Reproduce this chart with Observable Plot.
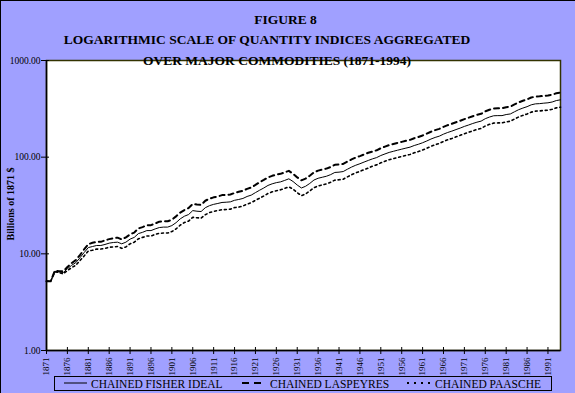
<!DOCTYPE html>
<html><head><meta charset="utf-8">
<script src="https://cdn.jsdelivr.net/npm/d3@7"></script>
<script src="https://cdn.jsdelivr.net/npm/@observablehq/plot@0.6"></script>
<style>
html,body{margin:0;padding:0;}
body{width:575px;height:393px;overflow:hidden;background:#a0a0ff;}
#wrap{position:relative;width:575px;height:393px;background:#a0a0ff;font-family:"Liberation Serif","Times New Roman",serif;color:#000;overflow:hidden;}
#wrap svg{position:absolute;left:0;top:0;overflow:visible;}
.t{position:absolute;white-space:nowrap;font-weight:bold;font-size:13.5px;line-height:13.5px;transform:translateX(-50%);z-index:5;}
#ylab{position:absolute;left:10.5px;top:204px;white-space:nowrap;font-weight:bold;font-size:10px;line-height:10px;transform:translate(-50%,-50%) rotate(-90deg);}
#bl{position:absolute;left:0;top:0;width:1px;height:393px;background:#000;z-index:9;}
#bt{position:absolute;left:0;top:0;width:575px;height:1px;background:#000;z-index:9;}
#legend{position:absolute;left:54px;top:376px;z-index:6;}
</style>
</head><body>
<div id="wrap">
  <div id="chart"></div>
  <div class="t" style="left:285.5px;top:13px;">FIGURE 8</div>
  <div class="t" style="left:267px;top:33px;">LOGARITHMIC SCALE OF QUANTITY INDICES AGGREGATED</div>
  <div class="t" style="left:277px;top:54px;">OVER MAJOR COMMODITIES (1871-1994)</div>
  <div id="ylab">Billions of 1871 $</div>
  <div id="legend"></div>
  <div id="bl"></div><div id="bt"></div>
</div>
<script>
const years = d3.range(1871, 1995);

const fisher = [
5.2,5.2,6.6,6.5,6.4,7.0,7.6,8.1,9.1,10.3,
11.6,11.9,12.2,12.2,12.5,12.9,13.1,13.2,12.7,13.2,
14.2,14.8,16.2,16.7,17.4,17.4,18.1,18.7,18.9,18.9,
19.6,21.0,23.0,24.5,25.5,28.0,27.6,27.4,30.0,31.5,
32.5,33.2,34.0,34.2,34.5,35.8,36.5,37.4,39.2,40.5,
43.0,45.5,48.0,51.0,53.0,54.5,55.5,57.5,59.7,56.0,
51.5,48.0,50.0,53.5,58.0,60.5,62.0,63.5,66.0,69.5,
70.0,71.0,75.0,79.0,82.5,85.5,89.0,92.5,96.0,99.0,
104,108,112,115,118,121,124,127,132,136,
141,147,154,160,165,173,180,186,193,200,
208,215,223,230,236,250,260,268,269,269,
276,280,295,310,322,333,348,356,358,362,
365,372,385,392];

const laspeyres = [
5.2,5.2,6.7,6.6,6.6,7.3,8.0,8.6,9.7,11.1,
12.6,13.0,13.3,13.3,13.8,14.2,14.5,14.7,14.1,14.8,
15.9,16.6,18.3,18.9,19.8,19.8,20.6,21.5,21.7,21.7,
22.5,24.4,26.7,28.4,29.8,32.8,32.3,32.1,35.4,37.2,
38.4,39.2,40.5,40.7,41.1,42.6,43.8,44.9,47.0,48.6,
51.6,55.1,58.1,61.7,64.1,65.9,67.2,69.6,72.2,67.2,
61.8,57.6,60.0,64.2,69.6,72.6,74.4,76.2,79.2,83.4,
84.0,85.2,90.0,94.8,99.0,102.6,106.8,111.0,114.2,117.8,
123.8,128.5,133.3,136.9,140.4,144.0,147.6,151.1,157.1,161.8,
167.8,174.9,183.3,190.4,196.4,205.9,214.2,221.3,229.7,238.0,
247.5,255.9,265.4,273.7,280.8,297.5,309.4,318.9,320.1,320.1,
328.4,333.2,351.0,368.9,383.2,396.3,414.1,423.6,426.0,430.8,
434.4,442.7,458.2,466.0];

const paasche = [
5.2,5.2,6.5,6.4,6.2,6.7,7.2,7.6,8.5,9.5,
10.7,10.9,11.2,11.2,11.4,11.7,11.8,11.9,11.4,11.8,
12.7,13.2,14.3,14.8,15.3,15.3,15.9,16.3,16.4,16.4,
17.0,18.1,19.8,21.1,21.8,23.9,23.6,23.4,25.4,26.7,
27.5,28.1,28.6,28.7,29.0,30.1,30.4,31.2,32.7,33.8,
35.8,37.6,39.7,42.1,43.8,45.0,45.9,47.5,49.3,46.7,
42.9,40.0,41.7,44.6,48.3,50.4,51.7,52.9,55.0,57.9,
58.3,59.2,62.5,65.8,68.8,71.3,74.2,77.1,80.7,83.2,
87.4,90.8,94.1,96.6,99.2,101.7,104.2,106.7,110.9,114.3,
118.5,123.5,129.4,134.5,138.7,145.4,151.3,156.3,162.2,168.1,
174.8,180.7,187.4,193.3,198.3,210.1,218.5,225.2,226.1,226.1,
231.9,235.3,247.9,260.5,270.6,279.8,292.4,299.2,300.8,304.2,
306.7,312.6,323.5,329.0];

const xTicks = [1871,1876,1881,1886,1891,1896,1901,1906,1911,1916,1921,1926,1931,1936,1941,1946,1951,1956,1961,1966,1971,1976,1981,1986,1991];
const yTicks = [1, 10, 100, 1000];
const seriesNames = ["CHAINED FISHER IDEAL", "CHAINED LASPEYRES", "CHAINED PAASCHE"];

const data = years.map((year, i) => ({year, fisher: fisher[i], laspeyres: laspeyres[i], paasche: paasche[i]}));

const chart = Plot.plot({
  width: 575,
  height: 393,
  marginLeft: 46,
  marginRight: 15,
  marginTop: 60,
  marginBottom: 43,
  style: {background: "transparent", fontFamily: "'Liberation Serif', 'Times New Roman', serif", color: "#000", overflow: "visible"},
  x: {domain: [1871, 1994], label: null},
  y: {type: "log", domain: [1, 1000], label: null},
  marks: [
    Plot.frame({fill: "white", stroke: "#333300", strokeWidth: 1.5}),
    Plot.line(data, {x: "year", y: "paasche", stroke: "black", strokeWidth: 1.6, strokeDasharray: "2,3"}),
    Plot.line(data, {x: "year", y: "laspeyres", stroke: "black", strokeWidth: 2, strokeDasharray: "5,4"}),
    Plot.line(data, {x: "year", y: "fisher", stroke: "black", strokeWidth: 1}),
    Plot.ruleX([1871], {stroke: "black", strokeWidth: 1.5}),
    Plot.ruleY([1], {stroke: "black", strokeWidth: 1.5}),
    Plot.axisY({ticks: yTicks, tickSize: 8, dx: 3, tickFormat: () => "", stroke: "black", label: null}),
    Plot.axisY({ticks: yTicks, tickSize: 0, tickPadding: 6, tickFormat: d3.format(".2f"), fontSize: 9.5, fill: "black", label: null}),
    Plot.axisX({ticks: xTicks, tickSize: 7, dy: -3, tickFormat: () => "", stroke: "black", label: null}),
    Plot.axisX({ticks: xTicks, tickSize: 0, tickPadding: 7, tickRotate: -90, tickFormat: d => String(d), fontSize: 9, fill: "black", label: null})
  ]
});
document.getElementById("chart").appendChild(chart);

// legend
const lw = 498, lh = 14.5;
const lg = d3.select("#legend").append("svg")
  .attr("width", lw).attr("height", lh + 1)
  .style("position", "static").style("overflow", "visible");
lg.append("rect").attr("x", 0.5).attr("y", 0.5).attr("width", lw - 1).attr("height", lh - 0.5)
  .attr("fill", "none").attr("stroke", "black").attr("stroke-width", 1);
const items = [
  {name: seriesNames[0], x1: 10, x2: 33, tx: 37, dash: null, w: 1},
  {name: seriesNames[1], x1: 188, x2: 209, tx: 216, dash: "7,5", w: 2},
  {name: seriesNames[2], x1: 353, x2: 379, tx: 381, dash: "2,5", w: 2}
];
for (const it of items) {
  const l = lg.append("line").attr("x1", it.x1).attr("x2", it.x2).attr("y1", 7).attr("y2", 7)
    .attr("stroke", "black").attr("stroke-width", it.w);
  if (it.dash) l.attr("stroke-dasharray", it.dash);
  lg.append("text").attr("x", it.tx).attr("y", 12)
    .attr("font-family", "'Liberation Serif', 'Times New Roman', serif")
    .attr("font-size", 11.5).attr("fill", "black").text(it.name);
}
</script>
</body></html>
